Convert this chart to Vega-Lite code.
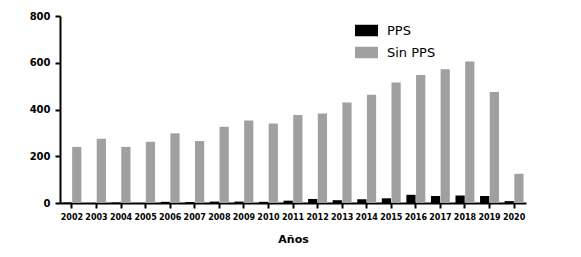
{
  "$schema": "https://vega.github.io/schema/vega-lite/v6.json",
  "width": 466,
  "height": 187,
  "autosize": "none",
  "padding": {"left": 60, "top": 16, "right": 55, "bottom": 54},
  "config": {"view": {"stroke": null}, "font": "DejaVu Sans"},
  "data": {"values": [
    {"year": "2002", "serie": "PPS", "n": 2}, {"year": "2002", "serie": "Sin PPS", "n": 240},
    {"year": "2003", "serie": "PPS", "n": 0}, {"year": "2003", "serie": "Sin PPS", "n": 275},
    {"year": "2004", "serie": "PPS", "n": 2}, {"year": "2004", "serie": "Sin PPS", "n": 240},
    {"year": "2005", "serie": "PPS", "n": 0}, {"year": "2005", "serie": "Sin PPS", "n": 262},
    {"year": "2006", "serie": "PPS", "n": 5}, {"year": "2006", "serie": "Sin PPS", "n": 298},
    {"year": "2007", "serie": "PPS", "n": 4}, {"year": "2007", "serie": "Sin PPS", "n": 265},
    {"year": "2008", "serie": "PPS", "n": 6}, {"year": "2008", "serie": "Sin PPS", "n": 326},
    {"year": "2009", "serie": "PPS", "n": 6}, {"year": "2009", "serie": "Sin PPS", "n": 353},
    {"year": "2010", "serie": "PPS", "n": 5}, {"year": "2010", "serie": "Sin PPS", "n": 340},
    {"year": "2011", "serie": "PPS", "n": 10}, {"year": "2011", "serie": "Sin PPS", "n": 376},
    {"year": "2012", "serie": "PPS", "n": 17}, {"year": "2012", "serie": "Sin PPS", "n": 383},
    {"year": "2013", "serie": "PPS", "n": 12}, {"year": "2013", "serie": "Sin PPS", "n": 430},
    {"year": "2014", "serie": "PPS", "n": 16}, {"year": "2014", "serie": "Sin PPS", "n": 463},
    {"year": "2015", "serie": "PPS", "n": 20}, {"year": "2015", "serie": "Sin PPS", "n": 515},
    {"year": "2016", "serie": "PPS", "n": 35}, {"year": "2016", "serie": "Sin PPS", "n": 548},
    {"year": "2017", "serie": "PPS", "n": 30}, {"year": "2017", "serie": "Sin PPS", "n": 572},
    {"year": "2018", "serie": "PPS", "n": 32}, {"year": "2018", "serie": "Sin PPS", "n": 605},
    {"year": "2019", "serie": "PPS", "n": 30}, {"year": "2019", "serie": "Sin PPS", "n": 475},
    {"year": "2020", "serie": "PPS", "n": 8}, {"year": "2020", "serie": "Sin PPS", "n": 125}
  ]},
  "mark": {"type": "bar"},
  "encoding": {
    "x": {
      "field": "year", "type": "ordinal",
      "scale": {"paddingInner": 0.23, "paddingOuter": 0.1},
      "axis": {
        "title": "Años", "titleFont": "DejaVu Sans", "titleFontSize": 11, "titleFontWeight": "bold",
        "titleColor": "#000", "titlePadding": 12,
        "labelAngle": 0, "labelFont": "DejaVu Sans", "labelFontSize": 8, "labelFontWeight": "bold",
        "labelColor": "#000", "labelPadding": 5,
        "domainColor": "#000", "domainWidth": 2, "tickColor": "#000", "tickWidth": 2, "tickSize": 5
      }
    },
    "xOffset": {"field": "serie", "type": "nominal", "scale": {"paddingInner": 0.05}},
    "y": {
      "field": "n", "type": "quantitative",
      "scale": {"domain": [0, 800], "nice": false},
      "axis": {
        "title": null, "values": [0, 200, 400, 600, 800], "grid": false,
        "labelFont": "DejaVu Sans", "labelFontSize": 10, "labelFontWeight": "bold", "labelColor": "#000",
        "labelPadding": 5,
        "domainColor": "#000", "domainWidth": 2, "tickColor": "#000", "tickWidth": 2, "tickSize": 5
      }
    },
    "color": {
      "field": "serie", "type": "nominal",
      "scale": {"domain": ["PPS", "Sin PPS"], "range": ["#000000", "#a0a0a2"]},
      "legend": {
        "title": null, "orient": "none", "legendX": 295, "legendY": 3,
        "symbolType": "M-1,-0.5H1V0.5H-1Z", "symbolSize": 529, "symbolStrokeWidth": 0,
        "labelFont": "DejaVu Sans", "labelFontSize": 13, "labelColor": "#000",
        "labelOffset": 9, "rowPadding": 3
      }
    }
  }
}
